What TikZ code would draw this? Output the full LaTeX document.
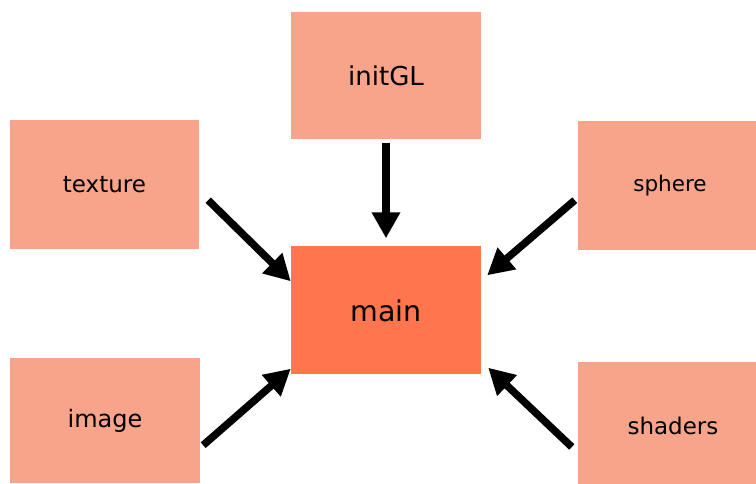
\documentclass[tikz,border=0pt]{standalone}
\usepackage{fontspec}
\setmainfont{DejaVu Sans}
\usetikzlibrary{positioning, arrows.meta}
\definecolor{boxsalmon}{RGB}{247,164,139}
\definecolor{maincoral}{RGB}{255,117,77}
\tikzstyle{module} = [rectangle, minimum width=190pt, minimum height=128pt, text centered, fill=boxsalmon, inner sep=0pt]
\tikzstyle{entry} = [module, fill=maincoral]
\tikzstyle{arrow} = [line width=7.5pt, -{Triangle[length=26pt,width=27pt]}]

\begin{document}
\begin{tikzpicture}[node distance=235pt, on grid]
\useasboundingbox (0,0) rectangle (756pt,484pt);

% Nodes
\node (main) [entry] at (386pt,173.5pt) {\fontsize{28.5}{32}\selectfont main};
\node (initGL) [module, above=235pt of main, minimum height=127pt] {\fontsize{26}{30}\selectfont initGL};
\node (texture) [module, above left=126pt and 281.5pt of main, minimum width=189pt, minimum height=129pt] {\fontsize{23}{27}\selectfont texture};
\node (sphere) [module, above right=125pt and 287pt of main, minimum height=129pt] {\hspace*{-6pt}\fontsize{21.5}{25}\selectfont sphere};
\node (image) [module, below left=110pt and 281pt of main, minimum height=125pt] {\fontsize{24}{28}\selectfont image};
\node (shaders) [module, below right=115pt and 287pt of main, minimum height=127pt] {\fontsize{23}{27}\selectfont shaders};

% Arrow ends
\coordinate (texture-out) at ([shift={(9pt,49pt)}]texture.south east);
\coordinate (sphere-out) at ([shift={(-3pt,50pt)}]sphere.south west);
\coordinate (image-out) at ([shift={(3pt,38pt)}]image.south east);
\coordinate (shaders-out) at ([shift={(-6pt,-21.5pt)}]shaders.west);

% Arrows
\draw [arrow, shorten <=4pt, shorten >=8pt] (initGL) -- (main);
\draw [arrow] (texture-out) -- ([yshift=-35pt]main.north west);
\draw [arrow] (sphere-out) -- ([shift={(6pt,-29pt)}]main.north east);
\draw [arrow] (image-out) -- ([yshift=6pt]main.south west);
\draw [arrow] (shaders-out) -- ([shift={(7pt,7pt)}]main.south east);

\end{tikzpicture}
\end{document}
